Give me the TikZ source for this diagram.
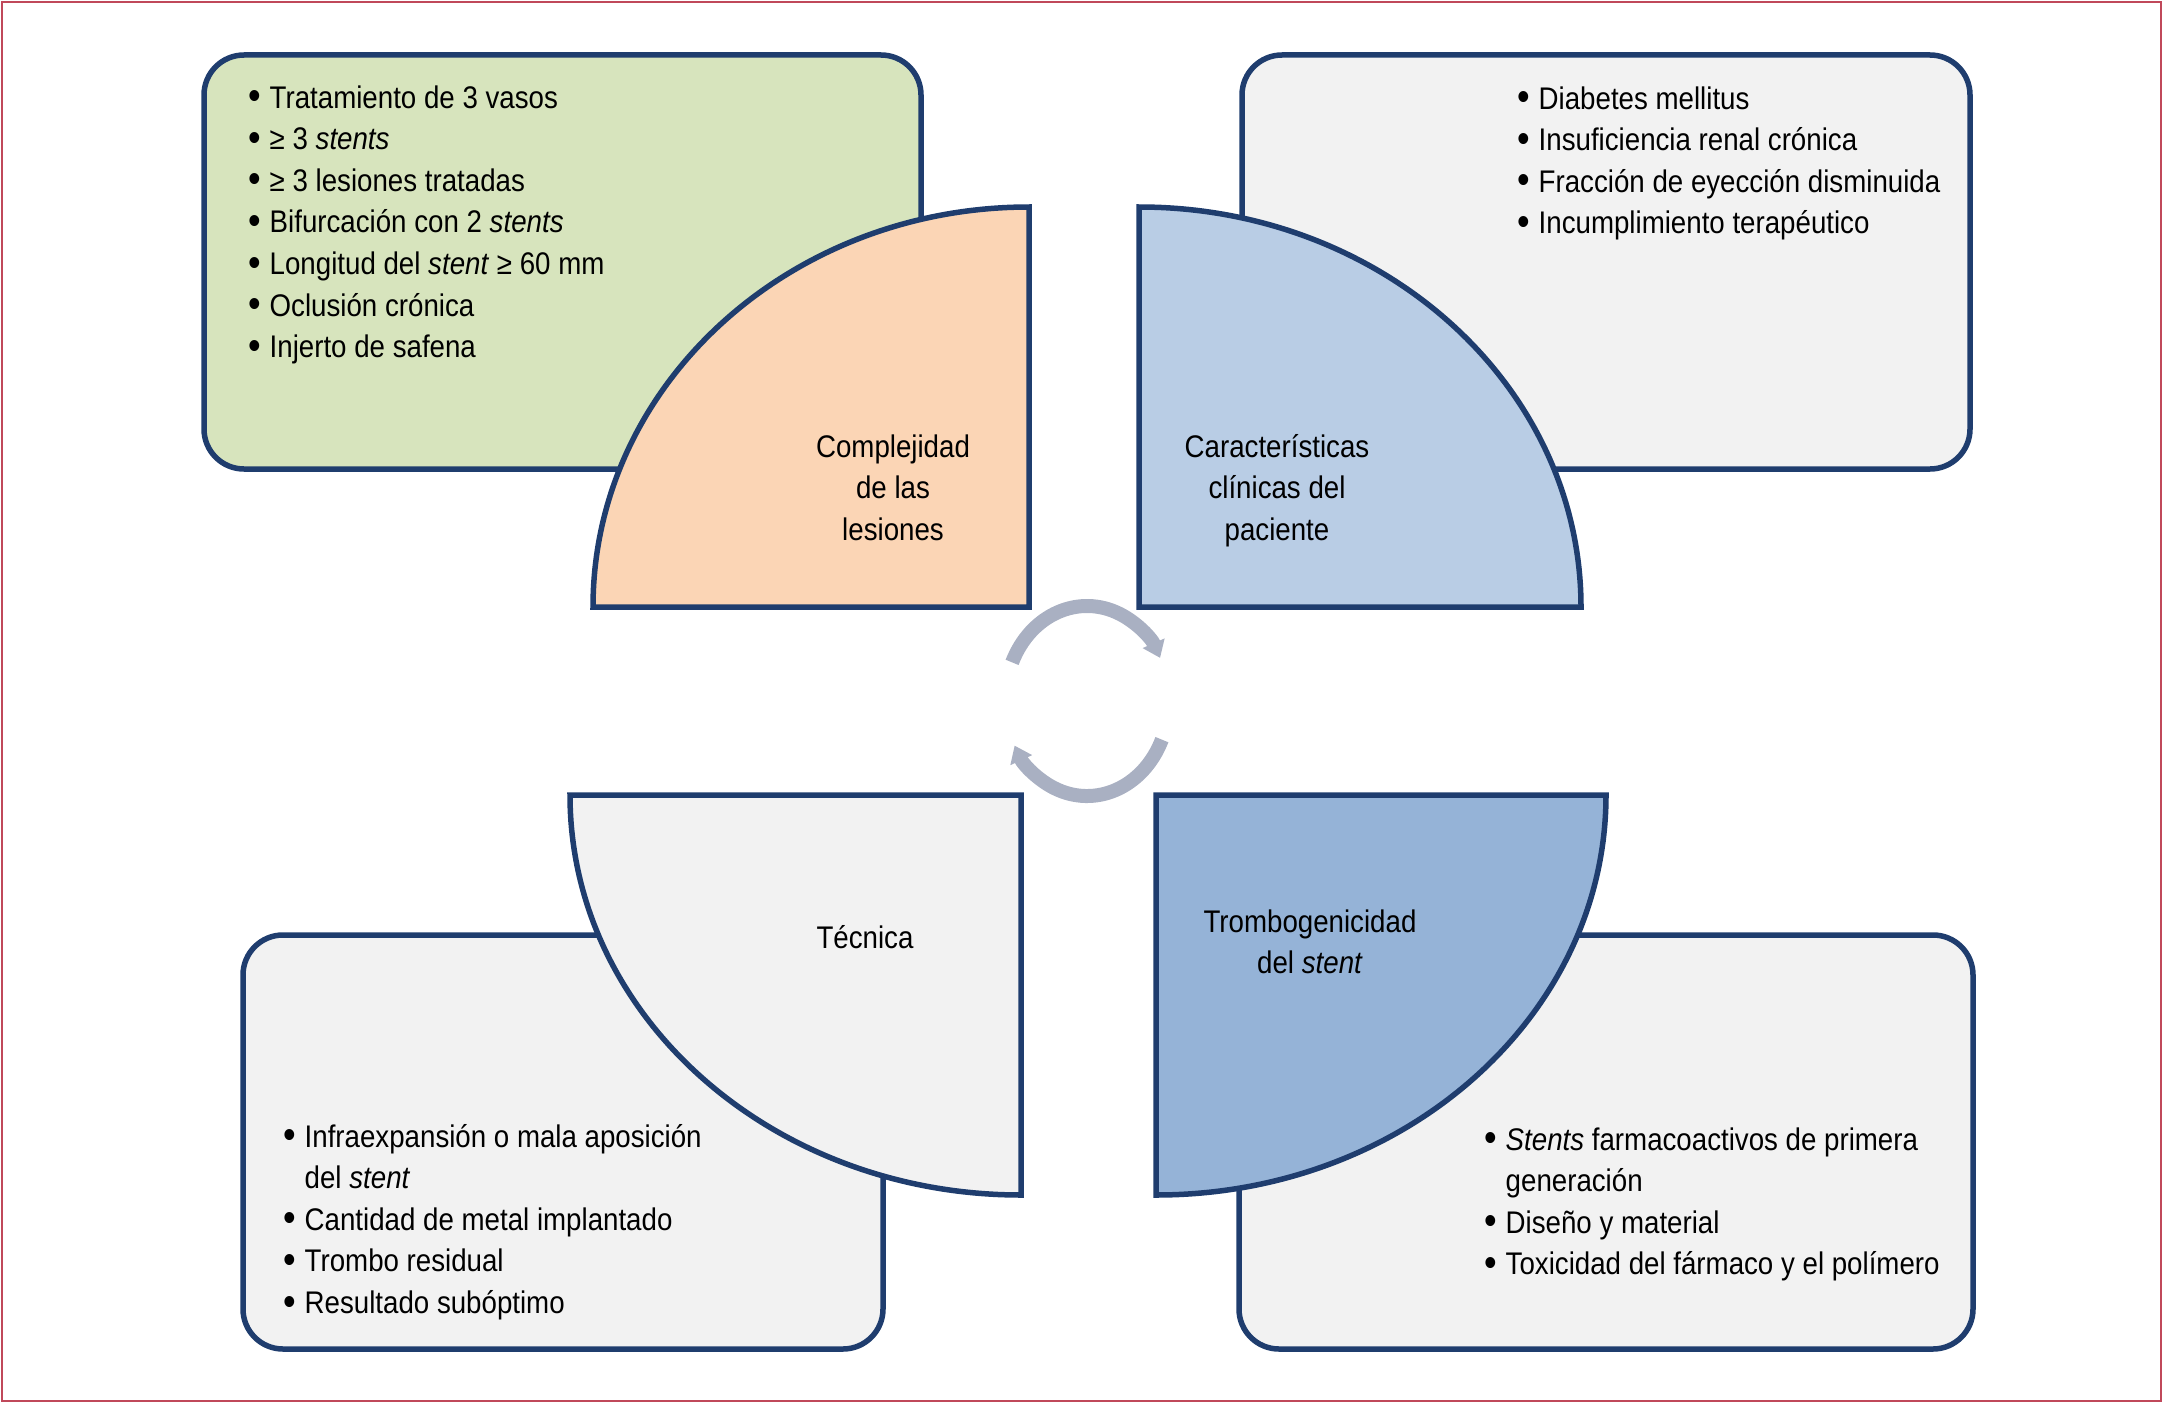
\documentclass[tikz,border=0pt]{standalone}
\usepackage{fontspec}
\setmainfont{Liberation Sans}[FakeStretch=0.885]
\usetikzlibrary{arrows.meta}
\definecolor{edgeblue}{HTML}{1F3D6E}
\definecolor{framered}{HTML}{C0485A}
\definecolor{boxgreen}{HTML}{D7E4BD}
\definecolor{boxgray}{HTML}{F2F2F2}
\definecolor{qorange}{HTML}{FBD5B5}
\definecolor{qblue}{HTML}{B9CDE5}
\definecolor{qdarkblue}{HTML}{95B3D7}
\definecolor{cyclegray}{HTML}{A9B0C2}
\newcommand{\itm}{\makebox[2.1mm][l]{\raisebox{-0.5pt}{\scalebox{1.3}{•}}}}
\newcommand{\cnt}{\hspace*{2.1mm}}
\tikzset{
  listbox/.style={draw=edgeblue, line width=0.55mm, rounded corners=4mm},
  quarter/.style={draw=edgeblue, line width=0.55mm, line join=miter},
  cyclearrow/.style={draw=cyclegray, line width=1.4mm, -{Triangle[length=1.6mm,width=2.3mm]}},
}
\begin{document}
\begin{tikzpicture}[x=0.1mm, y=0.1mm, every node/.style={inner sep=0pt, font=\fontsize{8.9}{11.8}\selectfont}]
\useasboundingbox (0,0) rectangle (2163,1403);
\draw[framered, line width=0.25mm] (2,2) rectangle (2161,1401);
% boxes
\draw[listbox, fill=boxgreen] (204,934) rectangle (921,1348);
\draw[listbox, fill=boxgray] (1242,934) rectangle (1970,1348);
\draw[listbox, fill=boxgray] (243,54) rectangle (883,468);
\draw[listbox, fill=boxgray] (1239,54) rectangle (1973,468);
% quarters
\draw[quarter, fill=qorange] (1029,796) -- (593,796) arc[start angle=180, end angle=90, x radius=436, y radius=400] -- cycle;
\draw[quarter, fill=qblue] (1139,796) -- (1139,1196) arc[start angle=90, end angle=0, x radius=442, y radius=400] -- cycle;
\draw[quarter, fill=boxgray] (1021,608) -- (570,608) arc[start angle=180, end angle=270, x radius=451, y radius=400] -- cycle;
\draw[quarter, fill=qdarkblue] (1156,608) -- (1606,608) arc[start angle=0, end angle=-90, x radius=450, y radius=400] -- cycle;
% cycle in the middle
\coordinate (hub) at (1087,702);
\draw[cyclearrow] (hub) ++(156:82 and 95) arc[start angle=156, end angle=27, x radius=82, y radius=95];
\draw[cyclearrow] (hub) ++(-24:82 and 95) arc[start angle=-24, end angle=-152, x radius=82, y radius=95];
% headings
\foreach \t [count=\i from 0] in {Complejidad, de las, lesiones}
  \node[anchor=base] (lesionhead\i) at (893,{946-41.6*\i}) {\t};
\foreach \t [count=\i from 0] in {Características, clínicas del, paciente}
  \node[anchor=base] (clinhead\i) at (1277,{946-41.6*\i}) {\t};
\node[anchor=base] (techead) at (865,455) {Técnica};
\foreach \t [count=\i from 0] in {Trombogenicidad, {del \textit{stent}}}
  \node[anchor=base] (tromhead\i) at (1310,{471-41.6*\i}) {\t};
% lists
\foreach \t [count=\i from 0] in {{\itm Tratamiento de 3 vasos}, {\itm ≥ 3 \textit{stents}}, {\itm ≥ 3 lesiones tratadas}, {\itm Bifurcación con 2 \textit{stents}}, {\itm Longitud del \textit{stent} ≥ 60 mm}, {\itm Oclusión crónica}, {\itm Injerto de safena}}
  \node[anchor=base west] (lesion\i) at (248,{1295-41.6*\i}) {\t};
\foreach \t [count=\i from 0] in {{\itm Diabetes mellitus}, {\itm Insuficiencia renal crónica}, {\itm Fracción de eyección disminuida}, {\itm Incumplimiento terapéutico}}
  \node[anchor=base west] (clin\i) at (1517,{1294-41.6*\i}) {\t};
\foreach \t [count=\i from 0] in {{\itm Infraexpansión o mala aposición}, {\cnt del \textit{stent}}, {\itm Cantidad de metal implantado}, {\itm Trombo residual}, {\itm Resultado subóptimo}}
  \node[anchor=base west] (tec\i) at (283,{256-41.6*\i}) {\t};
\foreach \t [count=\i from 0] in {{\itm \textit{Stents} farmacoactivos de primera}, {\cnt generación}, {\itm Diseño y material}, {\itm Toxicidad del fármaco y el polímero}}
  \node[anchor=base west] (trom\i) at (1484,{253-41.6*\i}) {\t};
\end{tikzpicture}
\end{document}
